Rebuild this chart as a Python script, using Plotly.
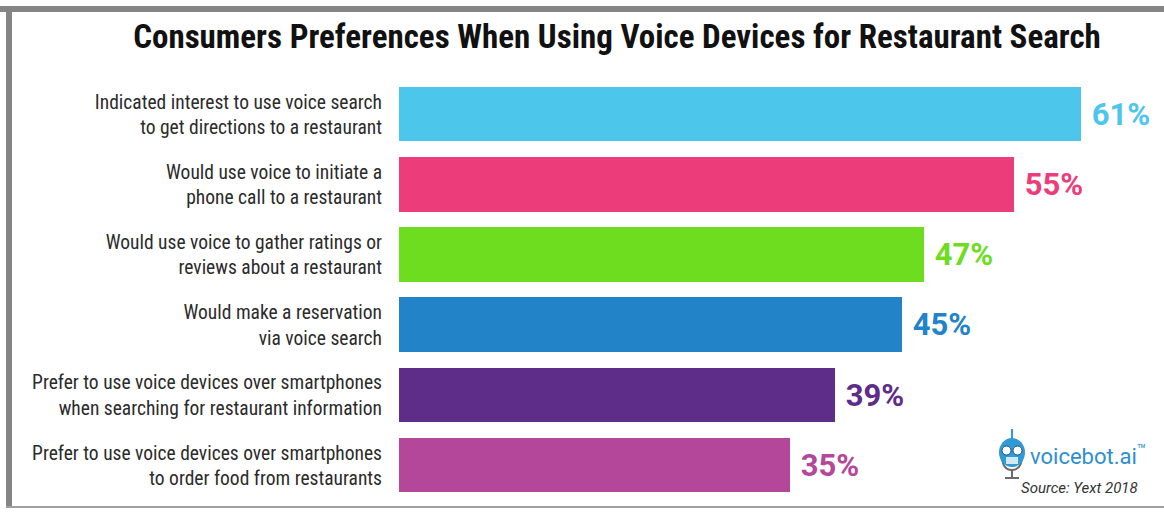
import plotly.graph_objects as go

categories = [
    "Indicated interest to use voice search<br>to get directions to a restaurant",
    "Would use voice to initiate a<br>phone call to a restaurant",
    "Would use voice to gather ratings or<br>reviews about a restaurant",
    "Would make a reservation<br>via voice search",
    "Prefer to use voice devices over smartphones<br>when searching for restaurant information",
    "Prefer to use voice devices over smartphones<br>to order food from restaurants",
]
values = [61, 55, 47, 45, 39, 35]
value_labels = ["61%", "55%", "47%", "45%", "39%", "35%"]
colors = ["#4DC6EC", "#EC3D7A", "#6EDC1F", "#2283C8", "#5E2D8A", "#B4479A"]

W, H = 1164, 512
FONT = "Liberation Sans Narrow, Roboto Condensed, Roboto, sans-serif"

fig = go.Figure()
fig.add_trace(go.Bar(
    y=categories, x=values, orientation="h",
    marker=dict(color=colors, line=dict(width=0)),
    width=0.78,
    text=value_labels, texttemplate=" %{text}", textposition="outside",
    textfont=dict(family="Roboto, sans-serif", size=31, color=colors, weight="bold"),
    cliponaxis=False,
    hoverinfo="skip",
))

x0 = 399 / W
y_top = 1 - 79.4 / H
y_bot = 1 - 500.6 / H


def px(x):
    return x / W


def py(y):
    return 1 - y / H


icon_blue = "#2E9BD6"
fig.update_layout(
    width=W, height=H,
    margin=dict(l=0, r=0, t=0, b=0),
    paper_bgcolor="white", plot_bgcolor="white",
    showlegend=False,
    bargap=0,
    xaxis=dict(domain=[x0, 1], range=[0, 765 / 11.18], visible=False, fixedrange=True),
    yaxis=dict(domain=[y_bot, y_top], autorange="reversed", showgrid=False, zeroline=False,
               showline=False, ticks="", ticklabelstandoff=16, fixedrange=True,
               tickfont=dict(family=FONT, size=19.5, color="#2b2b2b")),
    font=dict(family=FONT),
    title=dict(text="<b>Consumers Preferences When Using Voice Devices for Restaurant Search</b>",
               x=617 / W, xanchor="center", y=py(36), yanchor="middle",
               font=dict(family=FONT, size=33, color="#111111")),
    shapes=[
        dict(type="rect", xref="paper", yref="paper", x0=0, x1=1, y0=py(12), y1=py(6),
             fillcolor="#858585", line=dict(width=0), layer="above"),
        dict(type="rect", xref="paper", yref="paper", x0=px(6), x1=px(12), y0=py(507), y1=py(6),
             fillcolor="#858585", line=dict(width=0), layer="above"),
        dict(type="rect", xref="paper", yref="paper", x0=px(6), x1=1, y0=py(508), y1=py(506),
             fillcolor="#a0a0a0", line=dict(width=0), layer="above"),
        # simple robot mic icon
        dict(type="line", xref="paper", yref="paper", x0=px(1012), x1=px(1012),
             y0=py(440), y1=py(429), line=dict(color=icon_blue, width=2)),
        dict(type="path", xref="paper", yref="paper",
             path=f"M {px(1002)} {py(455)} Q {px(1002)} {py(470)} {px(1012)} {py(470)} "
                  f"Q {px(1022)} {py(470)} {px(1022)} {py(455)}",
             line=dict(color="#6a6a6a", width=2)),
        dict(type="circle", xref="paper", yref="paper", x0=px(999), x1=px(1025),
             y0=py(467), y1=py(438), fillcolor=icon_blue, line=dict(width=0)),
        dict(type="circle", xref="paper", yref="paper", x0=px(1002), x1=px(1011),
             y0=py(455), y1=py(446), fillcolor="white", line=dict(color="#1c4f7a", width=1)),
        dict(type="circle", xref="paper", yref="paper", x0=px(1013), x1=px(1022),
             y0=py(455), y1=py(446), fillcolor="white", line=dict(color="#1c4f7a", width=1)),
        dict(type="rect", xref="paper", yref="paper", x0=px(1006), x1=px(1018),
             y0=py(464), y1=py(457), fillcolor="#cfe9f7", line=dict(width=0)),
        dict(type="line", xref="paper", yref="paper", x0=px(1012), x1=px(1012),
             y0=py(478), y1=py(470), line=dict(color="#6a6a6a", width=2)),
        dict(type="line", xref="paper", yref="paper", x0=px(1005), x1=px(1019),
             y0=py(478), y1=py(478), line=dict(color="#6a6a6a", width=2)),
    ],
    annotations=[
        dict(text="voicebot.ai<sup>™</sup>", x=px(1028), y=py(455), xref="paper", yref="paper",
             xanchor="left", yanchor="middle", showarrow=False,
             font=dict(family="Roboto, sans-serif", size=22, color="#2E8FD0")),
        dict(text="<i>Source: Yext 2018</i>", x=px(1140), y=py(488), xref="paper", yref="paper",
             xanchor="right", yanchor="middle", showarrow=False,
             font=dict(family="Roboto, sans-serif", size=15, color="#333333")),
    ],
)

fig.write_html("out.html", config={"displayModeBar": False},
               post_script="document.body.style.margin='0';document.body.style.padding='0';")
